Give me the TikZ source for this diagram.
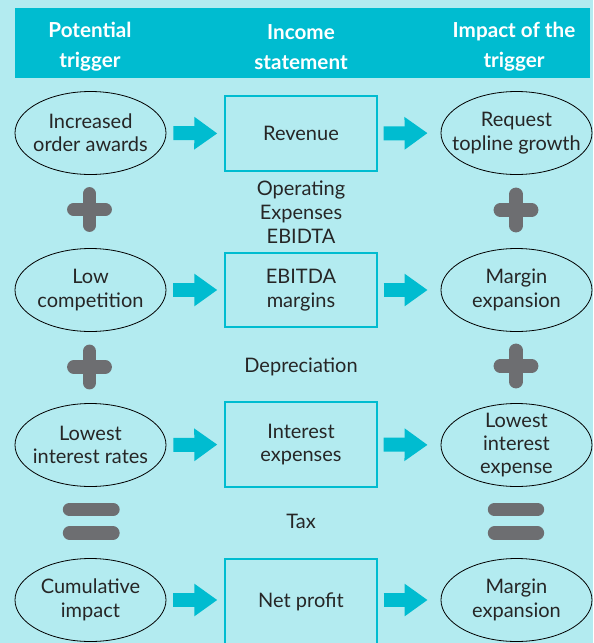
\documentclass[tikz,border=0pt]{standalone}
\usepackage{fontspec}
\setmainfont{Lato}
\usetikzlibrary{shapes.geometric,arrows.meta}

\definecolor{bgcyan}{RGB}{179,235,240}
\definecolor{headteal}{RGB}{0,188,208}
\definecolor{signgrey}{RGB}{109,110,113}
\definecolor{txtdark}{RGB}{38,38,38}

\tikzset{every picture/.style={line width=0.75pt}}
\tikzset{
  trigger/.style={draw=black, line width=0.6pt, ellipse, inner sep=-40pt,
    minimum width=113.25pt, minimum height=62.25pt, align=center,
    text=txtdark, font=\fontsize{15}{17.5}\selectfont},
  stmtbox/.style={draw=headteal, line width=1pt, rectangle, inner sep=0pt,
    minimum width=114pt, align=center,
    text=txtdark, font=\fontsize{15}{17.5}\selectfont},
  headtext/.style={align=center, text=white,
    font=\bfseries\fontsize{15.5}{22.5}\selectfont},
  midtext/.style={align=center, text=txtdark,
    font=\fontsize{15}{18}\selectfont},
  blockarrow/.style={draw=headteal, line width=10.5pt,
    -{Triangle[length=17.25pt,width=23.25pt]}},
  signbar/.style={draw=signgrey, line width=10pt, line cap=round},
}

\begin{document}
\begin{tikzpicture}[x=0.75pt,y=0.75pt,yscale=-1,xscale=1]
%Shape: Background
\path [fill=bgcyan, use as bounding box] (0,0) rectangle (593,643) ;
%Shape: Header band
\fill [headteal] (15,8) rectangle (590,78) ;

% Text Node
\draw (90,47) node [headtext] (hdtrig) {Potential\\trigger};
% Text Node
\draw (301,47) node [headtext] (hdstmt) {Income\\statement};
% Text Node
\draw (514,47) node [headtext] (hdimp) {Impact of the\\trigger};

%Shape: Ellipse
\draw (90.5,133) node [trigger] (trig1) {Increased\\order awards};
%Shape: Rectangle
\draw (301,133.5) node [stmtbox, minimum height=56.25pt] (revenue) {Revenue};
%Shape: Ellipse
\draw (516.5,133) node [trigger] (imp1) {Request\\topline growth};

%Shape: Ellipse
\draw (90.5,290) node [trigger] (trig2) {Low\\competition};
%Shape: Rectangle
\draw (301,290) node [stmtbox, minimum height=55.5pt] (ebitda) {EBITDA\\margins};
%Shape: Ellipse
\draw (516.5,290) node [trigger] (imp2) {Margin\\expansion};

%Shape: Ellipse
\draw (90.5,445) node [trigger] (trig3) {Lowest\\interest rates};
%Shape: Rectangle
\draw (301,444.5) node [stmtbox, minimum height=63.75pt] (interest) {Interest\\expenses};
%Shape: Ellipse
\draw (516.5,445) node [trigger] (imp3) {Lowest\\interest\\expense};

%Shape: Ellipse
\draw (90.5,600) node [trigger] (trig4) {Cumulative\\impact};
%Shape: Rectangle
\draw (301,604) node [stmtbox, minimum height=67.5pt] (netprofit) {};
\draw (301,602) node [midtext] (nptext) {Net profit};
%Shape: Ellipse
\draw (516.5,600) node [trigger] (imp4) {Margin\\expansion};

% Text Node
\draw (301,212) node [midtext] (opex) {Operating\\Expenses\\EBIDTA};
% Text Node
\draw (301,367) node [midtext] (deprec) {Depreciation};
% Text Node
\draw (301,521) node [midtext] (tax) {Tax};

%Straight Lines: block arrows
\draw [blockarrow, shorten <=5.25pt, shorten >=5.25pt] (trig1.east) -- (revenue.west) ;
\draw [blockarrow, shorten <=4.5pt, shorten >=9.75pt] (revenue.east) -- (imp1.west) ;
\draw [blockarrow, shorten <=5.25pt, shorten >=5.25pt] (trig2.east) -- (ebitda.west) ;
\draw [blockarrow, shorten <=4.5pt, shorten >=9.75pt] (ebitda.east) -- (imp2.west) ;
\draw [blockarrow, shorten <=5.25pt, shorten >=5.25pt] (trig3.east) -- (interest.west) ;
\draw [blockarrow, shorten <=4.5pt, shorten >=9.75pt] (interest.east) -- (imp3.west) ;
\draw [blockarrow, shorten <=5.25pt, shorten >=5.25pt] (trig4.east) -- (trig4.east -| netprofit.west) ;
\draw [blockarrow, shorten <=4.5pt, shorten >=9.75pt] (imp4.west -| netprofit.east) -- (imp4.west) ;

%Shape: Plus signs
\draw [signbar] (73.75,209.5) -- (105.25,209.5) (89.5,193.75) -- (89.5,225.25) ;
\draw [signbar] (500.25,210) -- (531.75,210) (516,194.25) -- (516,225.75) ;
\draw [signbar] (73.75,367) -- (105.25,367) (89.5,351.25) -- (89.5,382.75) ;
\draw [signbar] (500.25,366) -- (531.75,366) (516,350.25) -- (516,381.75) ;
%Shape: Equal signs
\draw [signbar] (69.5,509.5) -- (113,509.5) (69.5,533) -- (113,533) ;
\draw [signbar] (494.5,509.5) -- (537.5,509.5) (494.5,533) -- (537.5,533) ;

\end{tikzpicture}
\end{document}
